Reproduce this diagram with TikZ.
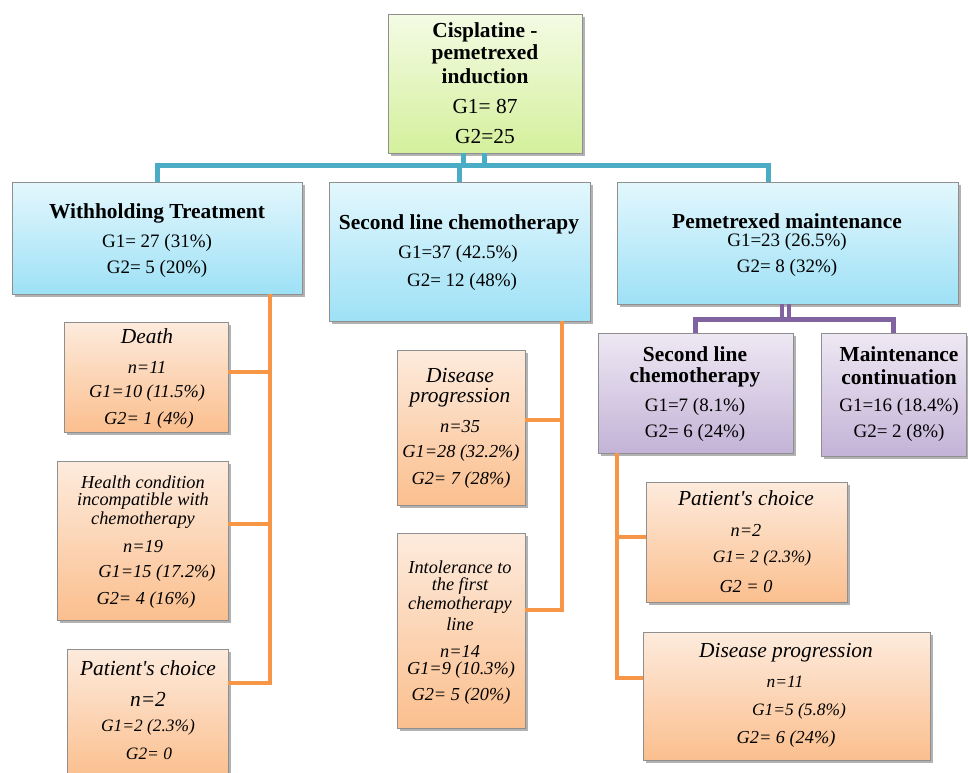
\documentclass[tikz,border=0pt]{standalone}
\usepackage{fontspec}
\setmainfont{Liberation Serif}
\usetikzlibrary{shadows,fit}
\definecolor{bline}{HTML}{4BACC6}
\definecolor{oline}{HTML}{F79646}
\definecolor{pline}{HTML}{8064A2}
\definecolor{gtop}{HTML}{F4FBE4}
\definecolor{gbot}{HTML}{D4F09C}
\definecolor{btop}{HTML}{E3F7FD}
\definecolor{bbot}{HTML}{9EE1F6}
\definecolor{otop}{HTML}{FDEBDD}
\definecolor{obot}{HTML}{FBBF8E}
\definecolor{ptop}{HTML}{EEE8F3}
\definecolor{pbot}{HTML}{C3B3D7}
\definecolor{bord}{HTML}{8F8F8F}
\tikzset{
  box/.style={draw=bord, line width=0.8pt, inner sep=0pt,
    drop shadow={shadow xshift=2.5pt, shadow yshift=-2.5pt, fill=black, opacity=0.3}},
  gbox/.style={box, top color=gtop, bottom color=gbot},
  bbox/.style={box, top color=btop, bottom color=bbot},
  obox/.style={box, top color=otop, bottom color=obot},
  pbox/.style={box, top color=ptop, bottom color=pbot},
  ttl/.style={font=\fontsize{21.4}{24}\selectfont\bfseries, inner sep=0pt},
  tbig/.style={font=\fontsize{21.4}{24}\selectfont, inner sep=0pt},
  txt/.style={font=\fontsize{19}{22}\selectfont, inner sep=0pt},
  ittl/.style={font=\fontsize{21.4}{24}\selectfont\itshape, inner sep=0pt},
  itxt/.style={font=\fontsize{18.3}{21}\selectfont\itshape, inner sep=0pt},
  itsm/.style={font=\fontsize{17.4}{20}\selectfont\itshape, inner sep=0pt},
  bconn/.style={draw=bline, line width=5pt},
  oconn/.style={draw=oline, line width=4.5pt},
  pconn/.style={draw=pline, line width=4.5pt},
}
\begin{document}
\begin{tikzpicture}[x=1pt,y=-1pt]
\clip (0,0) rectangle (968,772);
\fill[white] (0,0) rectangle (968,772);
% blue
\coordinate (pmin) at (768,182);
\node[bbox, fit={(12,182) (302,294)}] (wt) {};
\node[bbox, fit={(329,182) (590,321)}] (slc) {};
\node[bbox, fit={(617,182) (958,304)}] (pm) {};
\node[gbox, fit={(388,14) (582,153)}] (top) {};
\draw[bconn] (wt.north) -- ++(0,-16) -| (pmin);
\draw[bconn] (top.south -| 463,0) -- (463,168);
\draw[bconn] (top.south -| 484,0) -- (484,168);
\draw[bconn] (slc.north) -- ++(0,-16);
% purple
\node[pbox, fit={(598,333) (793,453)}] (pslc) {};
\node[pbox, fit={(821,333) (966,456)}] (pmc) {};
\draw[pconn] (pslc.north) -- ++(0,-13) -| (pmc.north);
\draw[pconn] (pm.south -| 782,0) -- (782,322);
\draw[pconn] (pm.south -| 789,0) -- (789,322);
% orange boxes
\node[obox, fit={(64,322) (228,432)}] (death) {};
\node[obox, fit={(57,461) (228,620)}] (health) {};
\node[obox, fit={(67,649) (228,778)}] (pc1) {};
\node[obox, fit={(397,350) (525,505)}] (dp) {};
\node[obox, fit={(397,533) (525,728)}] (intol) {};
\node[obox, fit={(646,482) (847,602)}] (pc2) {};
\node[obox, fit={(643,632) (930,760)}] (dp2) {};
% orange connectors
\draw[oconn] (wt.south -| 270,0) |- (pc1.east |- 0,683);
\draw[oconn] (death.east |- 0,372) -- (270,372);
\draw[oconn] (health.east |- 0,524) -- (270,524);
\draw[oconn] (slc.south -| 562,0) |- (intol.east |- 0,610);
\draw[oconn] (dp.east |- 0,420) -- (562,420);
\draw[oconn] (pslc.south -| 617,0) |- (dp2.west |- 0,678);
\draw[oconn] (pc2.west |- 0,537) -- (617,537);
% texts top
\node[ttl] (t1) at (485,32) {Cisplatine -};
\node[ttl] (t2) at (485,54) {pemetrexed};
\node[ttl] (t3) at (485,76) {induction};
\node[tbig] (t4) at (485,106) {G1= 87};
\node[tbig] (t5) at (485,137) {G2=25};
% level 2
\node[ttl] (w1) at (157,213) {Withholding Treatment};
\node[txt] (w2) at (157,243) {G1= 27 (31\%)};
\node[txt] (w3) at (157,269) {G2= 5 (20\%)};
\node[ttl] (s1) at (459,224) {Second line chemotherapy};
\node[txt] (s2) at (458,254) {G1=37 (42.5\%)};
\node[txt] (s3) at (462,282) {G2= 12 (48\%)};
\node[ttl] (m1) at (787,221) {Pemetrexed maintenance};
\node[txt] (m2) at (787,242) {G1=23 (26.5\%)};
\node[txt] (m3) at (787,268) {G2= 8 (32\%)};
% purple
\node[ttl] (ps1) at (695,354) {Second line};
\node[ttl] (ps2) at (695,377) {chemotherapy};
\node[txt] (ps3) at (695,407) {G1=7 (8.1\%)};
\node[txt] (ps4) at (695,433) {G2= 6 (24\%)};
\node[ttl] (pm1) at (899,354) {Maintenance};
\node[ttl] (pm2) at (899,377) {continuation};
\node[txt] (pm3) at (899,407) {G1=16 (18.4\%)};
\node[txt] (pm4) at (899,433) {G2= 2 (8\%)};
% death
\node[ittl] (d1) at (147,336) {Death};
\node[itxt] (d2) at (147,367) {n=11};
\node[itxt] (d3) at (147,393) {G1=10 (11.5\%)};
\node[itxt] (d4) at (149,420) {G2= 1 (4\%)};
% health
\node[itxt] (h1) at (143,482) {Health condition};
\node[itxt] (h2) at (143,501) {incompatible with};
\node[itxt] (h3) at (143,520) {chemotherapy};
\node[itxt] (h4) at (143,547) {n=19};
\node[itxt] (h5) at (157,573) {G1=15 (17.2\%)};
\node[itxt] (h6) at (146,600) {G2= 4 (16\%)};
% patient's choice left
\node[ittl] (c1) at (148,668) {Patient\textquotesingle s choice};
\node[ittl] (c2) at (148,699) {n=2};
\node[itsm] (c3) at (148,727) {G1=2 (2.3\%)};
\node[itsm] (c4) at (149,754) {G2= 0};
% disease progression mid
\node[ittl] (e1) at (460,376) {Disease};
\node[ittl] (e2) at (460,398) {progression};
\node[itxt] (e3) at (460,427) {n=35};
\node[itxt] (e4) at (461,453) {G1=28 (32.2\%)};
\node[itxt] (e5) at (461,480) {G2= 7 (28\%)};
% intolerance
\node[itxt] (i1) at (460,567) {Intolerance to};
\node[itxt] (i2) at (460,586) {the first};
\node[itxt] (i3) at (460,605) {chemotherapy};
\node[itxt] (i4) at (460,624) {line};
\node[itxt] (i5) at (460,651) {n=14};
\node[itxt] (i6) at (461,670) {G1=9 (10.3\%)};
\node[itxt] (i7) at (461,696) {G2= 5 (20\%)};
% patient's choice right
\node[ittl] (r1) at (746,498) {Patient\textquotesingle s choice};
\node[itxt] (r2) at (746,530) {n=2};
\node[itsm] (r3) at (762,558) {G1= 2 (2.3\%)};
\node[itxt] (r4) at (746,586) {G2 = 0};
% disease progression right
\node[ittl] (q1) at (786,653) {Disease progression};
\node[itsm] (q2) at (785,682) {n=11};
\node[itsm] (q3) at (799,711) {G1=5 (5.8\%)};
\node[itxt] (q4) at (786,739) {G2= 6 (24\%)};
\end{tikzpicture}
\end{document}
